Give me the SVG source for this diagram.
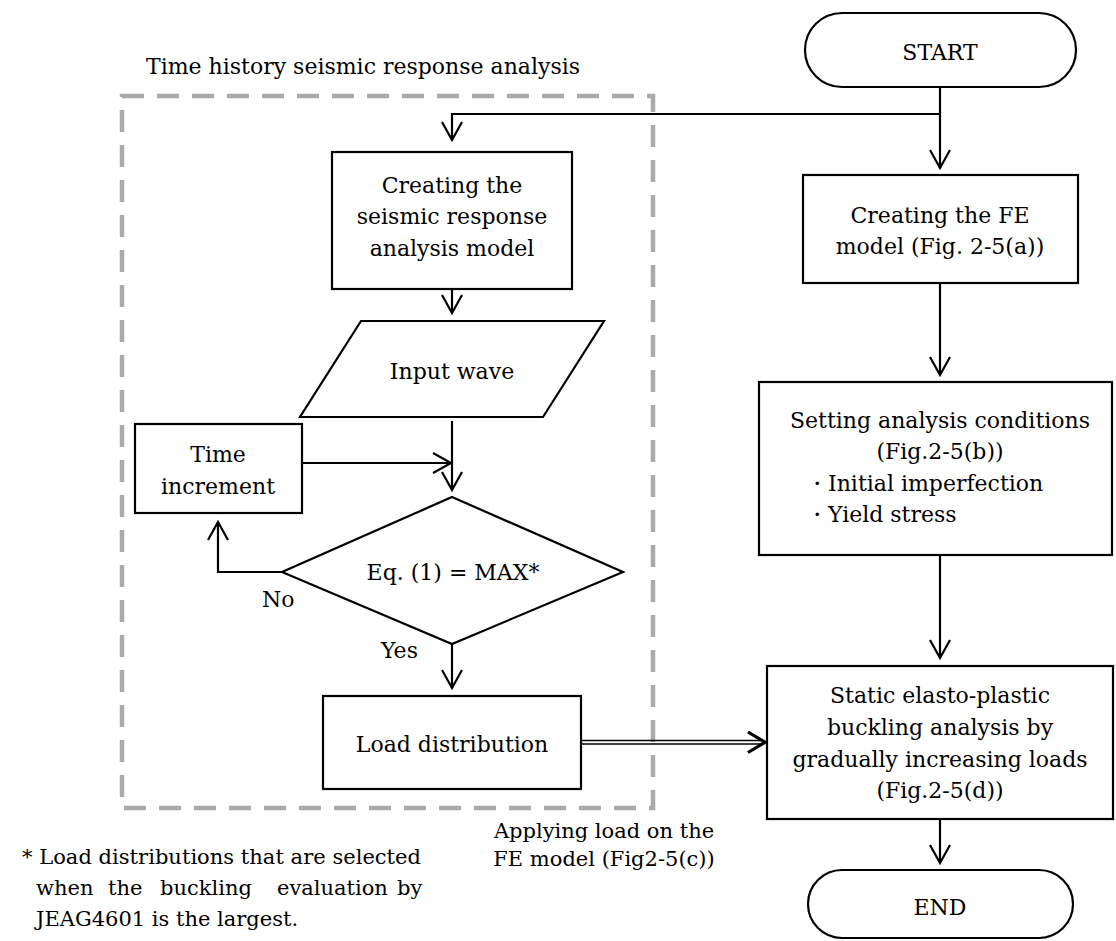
<svg xmlns="http://www.w3.org/2000/svg" width="1116" height="941" viewBox="0 0 1116 941">
<style>
text{font-family:"DejaVu Serif","Liberation Serif",serif;font-size:22px;fill:#000}
.c{text-anchor:middle}
.s{font-size:21px}
.box{fill:#fff;stroke:#000;stroke-width:2.2}
.ln{fill:none;stroke:#000;stroke-width:2.2}
.thin{fill:none;stroke:#000;stroke-width:1.3}
.dash{fill:none;stroke:#aaa;stroke-width:4.5;stroke-dasharray:22 13}
</style>
<defs>
<marker id="ah" viewBox="-20 -12 24 24" markerWidth="24" markerHeight="24" refX="0" refY="0" orient="auto" markerUnits="userSpaceOnUse">
<path d="M-18,-10 L0,0 L-18,10" fill="none" stroke="#000" stroke-width="2.2"/>
</marker>
</defs>
<rect class="dash" x="122" y="96" width="531" height="712"/>
<text x="146" y="74">Time history seismic response analysis</text>

<g id="connectors">
<polyline class="ln" points="940,87 940,114 452,114 452,140" marker-end="url(#ah)"/>
<line class="ln" x1="940" y1="114" x2="940" y2="168" marker-end="url(#ah)"/>
<line class="ln" x1="452" y1="289" x2="452" y2="313" marker-end="url(#ah)"/>
<line class="ln" x1="452" y1="421" x2="452" y2="490" marker-end="url(#ah)"/>
<line class="ln" x1="302" y1="463" x2="451" y2="463" marker-end="url(#ah)"/>
<polyline class="ln" points="282,572 218,572 218,522" marker-end="url(#ah)"/>
<line class="ln" x1="452" y1="644" x2="452" y2="688" marker-end="url(#ah)"/>
<line class="ln" x1="940" y1="283" x2="940" y2="375" marker-end="url(#ah)"/>
<line class="ln" x1="940" y1="555" x2="940" y2="658" marker-end="url(#ah)"/>
<line class="ln" x1="940" y1="819" x2="940" y2="863" marker-end="url(#ah)"/>
<line class="thin" x1="582" y1="740.5" x2="762" y2="740.5"/>
<line class="thin" x1="582" y1="744" x2="762" y2="744"/>
<path d="M748,732 L765,742.3 L748,752.5" fill="none" stroke="#000" stroke-width="3.2"/>
</g>

<g id="start">
<rect class="box" x="805" y="13" width="271" height="74" rx="37" ry="37"/>
<text class="c" x="940" y="60">START</text>
</g>
<g id="create-model">
<rect class="box" x="332" y="152" width="240" height="137"/>
<text class="c" x="452" y="193">Creating the</text>
<text class="c" x="452" y="224">seismic response</text>
<text class="c" x="452" y="256">analysis model</text>
</g>
<g id="input-wave">
<polygon class="box" points="361,321 604,321 543,417 300,417"/>
<text class="c" x="452" y="379">Input wave</text>
</g>
<g id="time-increment">
<rect class="box" x="135" y="424" width="167" height="89"/>
<text class="c" x="218" y="462">Time</text>
<text class="c" x="218" y="494">increment</text>
</g>
<g id="decision">
<polygon class="box" points="452,497 623,572 452,644 282,572"/>
<text class="c" x="453" y="580">Eq. (1) = MAX*</text>
<text x="262" y="607">No</text>
<text x="381" y="658">Yes</text>
</g>
<g id="load-distribution">
<rect class="box" x="323" y="696" width="258" height="93"/>
<text class="c" x="452" y="752">Load distribution</text>
</g>
<g id="fe-model">
<rect class="box" x="803" y="175" width="275" height="108"/>
<text class="c" x="940" y="223">Creating the FE</text>
<text class="c" x="940" y="254">model (Fig. 2-5(a))</text>
</g>
<g id="conditions">
<rect class="box" x="759" y="382" width="353" height="173"/>
<text class="c" x="940" y="428">Setting analysis conditions</text>
<text class="c" x="940" y="459">(Fig.2-5(b))</text>
<text x="806" y="491">・Initial imperfection</text>
<text x="806" y="522">・Yield stress</text>
</g>
<g id="static-analysis">
<rect class="box" x="767" y="666" width="346" height="153"/>
<text class="c" x="940" y="703">Static elasto-plastic</text>
<text class="c" x="940" y="735">buckling analysis by</text>
<text class="c" x="940" y="767">gradually increasing loads</text>
<text class="c" x="940" y="798">(Fig.2-5(d))</text>
</g>
<g id="end">
<rect class="box" x="808" y="870" width="265" height="68" rx="34" ry="34"/>
<text class="c" x="940" y="915">END</text>
</g>
<g id="labels">
<text class="c s" x="604" y="838">Applying load on the</text>
<text class="c s" x="604" y="866">FE model (Fig2-5(c))</text>
<text class="s" x="22" y="864" textLength="399" lengthAdjust="spacing">* Load distributions that are selected</text>
<text class="s" y="895"><tspan x="36">when</tspan><tspan x="108">the</tspan><tspan x="160">buckling</tspan><tspan x="277">evaluation</tspan><tspan x="397">by</tspan></text>
<text class="s" x="36" y="926">JEAG4601 is the largest.</text>
</g>
</svg>
